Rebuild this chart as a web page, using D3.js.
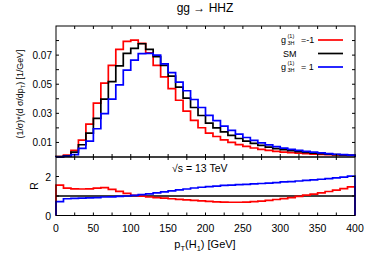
<!DOCTYPE html>
<html>
<head>
<meta charset="utf-8">
<script src="https://cdn.jsdelivr.net/npm/d3@7"></script>
<style>
  body { margin: 0; background: #fff; }
  text { font-family: "Liberation Sans", Arial, sans-serif; }
</style>
</head>
<body>
<div id="chart"></div>
<script>
// 40 bins of 10 GeV from 0 to 400
var binEdges = d3.range(0, 410, 10);

var minusOne = [0.0003, 0.0013, 0.0045, 0.0116, 0.0226, 0.0370, 0.0507, 0.0630, 0.0740, 0.0795,
                0.0803, 0.0780, 0.0715, 0.0630, 0.0550, 0.0470, 0.0390, 0.0315, 0.0252, 0.0201,
                0.0164, 0.0141, 0.0118, 0.0100, 0.0085, 0.0073, 0.0062, 0.0053, 0.0045, 0.0039,
                0.0034, 0.0030, 0.0026, 0.0023, 0.0020, 0.0018, 0.0016, 0.0014, 0.0013, 0.0011];
var sm       = [0.0002, 0.0008, 0.0033, 0.0084, 0.0164, 0.0266, 0.0397, 0.0518, 0.0626, 0.0712,
                0.0746, 0.0778, 0.0740, 0.0690, 0.0630, 0.0555, 0.0480, 0.0405, 0.0340, 0.0285,
                0.0233, 0.0200, 0.0172, 0.0148, 0.0127, 0.0109, 0.0093, 0.0080, 0.0068, 0.0058,
                0.0050, 0.0043, 0.0037, 0.0032, 0.0027, 0.0023, 0.0020, 0.0017, 0.0014, 0.0012];
var plusOne  = [0.0001, 0.0005, 0.0016, 0.0059, 0.0109, 0.0194, 0.0298, 0.0397, 0.0495, 0.0597,
                0.0666, 0.0710, 0.0712, 0.0700, 0.0640, 0.0580, 0.0515, 0.0455, 0.0395, 0.0340,
                0.0286, 0.0250, 0.0212, 0.0183, 0.0157, 0.0134, 0.0114, 0.0097, 0.0083, 0.0071,
                0.0061, 0.0053, 0.0046, 0.0039, 0.0033, 0.0028, 0.0023, 0.0019, 0.0016, 0.0013];

// ratio to SM
var ratioMinusOne = [1.56, 1.40, 1.37, 1.36, 1.37, 1.40, 1.43, 1.34, 1.24, 1.13,
                     1.03, 0.99, 0.95, 0.92, 0.89, 0.86, 0.83, 0.80, 0.78, 0.75,
                     0.72, 0.70, 0.69, 0.68, 0.68, 0.69, 0.71, 0.74, 0.78, 0.82,
                     0.87, 0.92, 0.98, 1.04, 1.10, 1.16, 1.23, 1.30, 1.38, 1.47];
var ratioPlusOne  = [0.71, 0.86, 0.88, 0.89, 0.90, 0.92, 0.95, 0.96, 0.98, 1.00,
                     1.03, 1.07, 1.11, 1.16, 1.21, 1.26, 1.31, 1.36, 1.41, 1.45,
                     1.48, 1.51, 1.54, 1.56, 1.58, 1.60, 1.62, 1.64, 1.66, 1.69,
                     1.72, 1.74, 1.77, 1.80, 1.83, 1.86, 1.89, 1.93, 1.97, 2.02];

var xTickLabels = [0, 50, 100, 150, 200, 250, 300, 350, 400];
var yTickLabels = [0.01, 0.03, 0.05, 0.07];
var rTickLabels = [0, 2];

function drawChart() {
    var width = 374, height = 262;
    var left = 56, right = 355, plotTop = 26, mid = 157, bottom = 215.5;

    var svg = d3.select("#chart").append("svg")
        .attr("width", width)
        .attr("height", height);

    var x = d3.scaleLinear().domain([0, 400]).range([left, right]);
    var y = d3.scaleLinear().domain([0, 0.09]).range([mid, plotTop]);
    var r = d3.scaleLinear().domain([0, 3]).range([bottom, mid]);

    function steps(vals) {
        var pts = [[0, 0]];
        vals.forEach(function(v, i) {
            pts.push([binEdges[i], v]);
            pts.push([binEdges[i + 1], v]);
        });
        pts.push([400, 0]);
        return pts;
    }

    function hist(vals, scale, color) {
        var line = d3.line()
            .x(function(d) { return x(d[0]); })
            .y(function(d) { return scale(d[1]); });
        svg.append("path")
            .attr("d", line(steps(vals)))
            .attr("fill", "none")
            .attr("stroke", color)
            .attr("stroke-width", 1.7);
    }

    // top panel
    hist(minusOne, y, "#ff0000");
    hist(sm, y, "#000000");
    hist(plusOne, y, "#0000ff");

    // lower panel
    svg.append("line")
        .attr("x1", x(0)).attr("x2", x(400))
        .attr("y1", r(1)).attr("y2", r(1))
        .attr("stroke", "#000").attr("stroke-width", 1.4);
    hist(ratioMinusOne, r, "#ff0000");
    hist(ratioPlusOne, r, "#0000ff");

    // frames
    [[plotTop, mid], [mid, bottom]].forEach(function(p) {
        svg.append("rect")
            .attr("x", left).attr("y", p[0])
            .attr("width", right - left).attr("height", p[1] - p[0])
            .attr("fill", "none").attr("stroke", "#000").attr("stroke-width", 1);
    });

    // inward ticks
    var ticks = svg.append("g").attr("stroke", "#000").attr("stroke-width", 1);
    var tl = 3;
    d3.range(25, 400, 25).forEach(function(t) {
        [[plotTop, 1], [mid, -1], [mid, 1], [bottom, -1]].forEach(function(e) {
            ticks.append("line")
                .attr("x1", x(t)).attr("x2", x(t))
                .attr("y1", e[0]).attr("y2", e[0] + e[1] * tl);
        });
    });
    d3.range(0.01, 0.085, 0.01).forEach(function(t) {
        ticks.append("line").attr("x1", left).attr("x2", left + tl)
            .attr("y1", y(t)).attr("y2", y(t));
        ticks.append("line").attr("x1", right).attr("x2", right - tl)
            .attr("y1", y(t)).attr("y2", y(t));
    });
    [1, 2].forEach(function(t) {
        ticks.append("line").attr("x1", left).attr("x2", left + tl)
            .attr("y1", r(t)).attr("y2", r(t));
        ticks.append("line").attr("x1", right).attr("x2", right - tl)
            .attr("y1", r(t)).attr("y2", r(t));
    });

    // tick labels
    svg.selectAll(".xl").data(xTickLabels).enter().append("text")
        .attr("x", function(d) { return x(d); })
        .attr("y", 231.5)
        .attr("text-anchor", "middle")
        .attr("font-size", 10.5)
        .text(function(d) { return d; });

    svg.selectAll(".yl").data(yTickLabels).enter().append("text")
        .attr("x", 52)
        .attr("y", function(d) { return y(d) + 3.5; })
        .attr("text-anchor", "end")
        .attr("font-size", 10)
        .text(function(d) { return d3.format(".2f")(d); });

    svg.selectAll(".rl").data(rTickLabels).enter().append("text")
        .attr("x", 51)
        .attr("y", function(d) { return r(d) + 4; })
        .attr("text-anchor", "end")
        .attr("font-size", 10.5)
        .text(function(d) { return d; });

    // titles
    svg.append("text")
        .attr("x", 205).attr("y", 12)
        .attr("text-anchor", "middle")
        .attr("font-size", 12)
        .text("gg \u2192 HHZ");

    var yLab = svg.append("text")
        .attr("transform", "translate(23,94) rotate(-90)")
        .attr("text-anchor", "middle")
        .attr("font-size", 8.8);
    yLab.append("tspan").text("(1/\u03c3)*(d \u03c3/dp");
    yLab.append("tspan").attr("font-size", 6).attr("dy", 2).text("T");
    yLab.append("tspan").attr("dy", -2).text(") [1/GeV]");

    svg.append("text")
        .attr("transform", "translate(38,186) rotate(-90)")
        .attr("text-anchor", "middle")
        .attr("font-size", 10.5)
        .text("R");

    var xLab = svg.append("text")
        .attr("x", 205).attr("y", 248)
        .attr("text-anchor", "middle")
        .attr("font-size", 11);
    xLab.append("tspan").text("p");
    xLab.append("tspan").attr("font-size", 7.5).attr("dy", 2.5).text("T");
    xLab.append("tspan").attr("dy", -2.5).text("(H");
    xLab.append("tspan").attr("font-size", 7.5).attr("dy", 2.5).text("1");
    xLab.append("tspan").attr("dy", -2.5).text(") [GeV]");

    svg.append("text")
        .attr("x", 172).attr("y", 172)
        .attr("font-size", 10.5)
        .text("\u221as = 13 TeV");

    // legend
    var legend = [
        {label: "=-1", color: "#ff0000", yy: 40, g: true},
        {label: "SM", color: "#000000", yy: 53.5, g: false},
        {label: "= 1", color: "#0000ff", yy: 67, g: true}
    ];
    legend.forEach(function(d) {
        svg.append("line")
            .attr("x1", 318).attr("x2", 343)
            .attr("y1", d.yy).attr("y2", d.yy)
            .attr("stroke", d.color).attr("stroke-width", 1.7);
        if (d.g) {
            svg.append("text").attr("x", 281).attr("y", d.yy + 2.5)
                .attr("font-size", 9).text("g");
            svg.append("text").attr("x", 287.5).attr("y", d.yy - 2)
                .attr("font-size", 5.5).text("(1)");
            svg.append("text").attr("x", 287.5).attr("y", d.yy + 4.5)
                .attr("font-size", 5.5).text("3H");
            svg.append("text").attr("x", 301).attr("y", d.yy + 3)
                .attr("font-size", 9).text(d.label);
        } else {
            svg.append("text").attr("x", 283).attr("y", d.yy + 3)
                .attr("font-size", 9).text(d.label);
        }
    });
}

drawChart();
</script>
</body>
</html>
